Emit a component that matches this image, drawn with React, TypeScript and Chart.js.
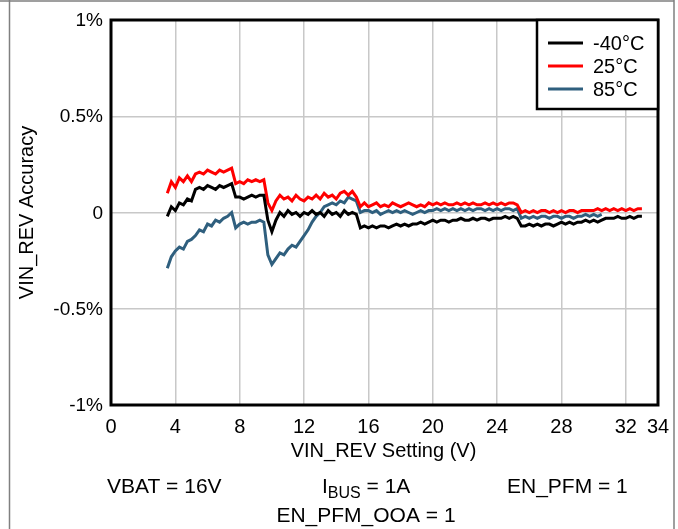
import React, { useEffect, useRef } from "react";
import { Chart, registerables } from "chart.js";

Chart.register(...registerables);

// VIN_REV sweep settings: start and step (V)
const vinStart = 3.5;
const vinStep = 0.25;

// Accuracy (%), one value per 0.25 V from 3.5 V
const minus40C = [
  -0.02, 0.03,
  0.01, 0.05, 0.04, 0.07,
  0.06, 0.12, 0.13, 0.12,
  0.14, 0.13, 0.12, 0.14,
  0.13, 0.14, 0.15, 0.08,
  0.08, 0.07, 0.08, 0.09,
  0.08, 0.09, 0.09, -0.04,
  -0.1, -0.04, 0.0, -0.02,
  0.01, -0.01, 0.0, -0.02,
  0.0, -0.01, 0.01, -0.01,
  0.0, -0.02, 0.01, -0.01,
  0.0, -0.02, 0.01, -0.01,
  0.0, -0.01, -0.08, -0.07,
  -0.08, -0.07, -0.08, -0.07,
  -0.07, -0.08, -0.07, -0.06,
  -0.07, -0.06, -0.07, -0.06,
  -0.06, -0.05, -0.06, -0.05,
  -0.04, -0.05, -0.04, -0.04,
  -0.05, -0.04, -0.04, -0.03,
  -0.04, -0.04, -0.03, -0.04,
  -0.03, -0.03, -0.04, -0.03,
  -0.03, -0.03, -0.02, -0.03,
  -0.02, -0.03, -0.07, -0.07,
  -0.06, -0.07, -0.06, -0.07,
  -0.06, -0.06, -0.07, -0.06,
  -0.05, -0.06, -0.05, -0.06,
  -0.05, -0.05, -0.04, -0.05,
  -0.04, -0.05, -0.04, -0.03,
  -0.03, -0.03, -0.02, -0.03,
  -0.03, -0.02, -0.03, -0.02,
  -0.02,
];

const plus25C = [
  0.1, 0.16,
  0.13, 0.18, 0.16, 0.19,
  0.16, 0.2, 0.21, 0.2,
  0.22, 0.21, 0.2, 0.22,
  0.21, 0.22, 0.23, 0.15,
  0.16, 0.15, 0.17, 0.16,
  0.17, 0.16, 0.17, 0.05,
  0.01, 0.06, 0.09, 0.07,
  0.08, 0.06, 0.09, 0.07,
  0.06, 0.08, 0.07, 0.09,
  0.07, 0.1, 0.08, 0.09,
  0.07, 0.1, 0.11, 0.09,
  0.11, 0.08, 0.03, 0.05,
  0.03, 0.04, 0.05, 0.03,
  0.04, 0.03, 0.05, 0.04,
  0.03, 0.04, 0.05, 0.04,
  0.03, 0.04, 0.03, 0.05,
  0.04, 0.05, 0.04, 0.05,
  0.04, 0.04, 0.05, 0.04,
  0.05, 0.04, 0.05, 0.04,
  0.04, 0.05, 0.04, 0.05,
  0.04, 0.05, 0.04, 0.05,
  0.05, 0.04, 0.0, 0.01,
  0.0, 0.01, 0.0, 0.01,
  0.01, 0.0, 0.01, 0.0,
  0.01, 0.0, 0.01, 0.01,
  0.0, 0.01, 0.01, 0.01,
  0.01, 0.02, 0.01, 0.02,
  0.01, 0.02, 0.01, 0.02,
  0.01, 0.02, 0.01, 0.02,
  0.02,
];

const plus85C = [
  -0.29, -0.23,
  -0.2, -0.18, -0.19, -0.15,
  -0.14, -0.12, -0.09, -0.1,
  -0.06, -0.07, -0.04, -0.05,
  -0.03, -0.02, 0.0, -0.08,
  -0.06, -0.05, -0.06, -0.05,
  -0.05, -0.04, -0.05, -0.22,
  -0.27, -0.24, -0.21, -0.22,
  -0.19, -0.17, -0.18, -0.15,
  -0.12, -0.09, -0.05, -0.02,
  0.0, 0.03, 0.04, 0.05,
  0.04, 0.06, 0.05, 0.08,
  0.07, 0.06, 0.0, 0.01,
  0.01, 0.0, 0.01, -0.01,
  0.0, 0.01, 0.0, 0.01,
  0.0, 0.01, 0.0, -0.01,
  0.0, 0.01, 0.0, 0.01,
  0.01, 0.02, 0.01, 0.02,
  0.01, 0.02, 0.01, 0.02,
  0.01, 0.02, 0.01, 0.02,
  0.02, 0.01, 0.02, 0.01,
  0.02, 0.01, 0.02, 0.02,
  0.01, 0.02, -0.03, -0.02,
  -0.03, -0.02, -0.03, -0.02,
  -0.02, -0.03, -0.02, -0.02,
  -0.03, -0.02, -0.02, -0.03,
  -0.02, -0.02, -0.01, -0.02,
  -0.01, -0.02, -0.01,
];

const seriesNames = ["-40°C", "25°C", "85°C"];
const seriesColors = ["#000000", "#ff0000", "#2f5f7e"];
const xTickValues = [0, 4, 8, 12, 16, 20, 24, 28, 32, 34];
const yTickValues = [-1, -0.5, 0, 0.5, 1];
const yTickLabels = ["-1%", "-0.5%", "0", "0.5%", "1%"];
const xTitle = "VIN_REV Setting (V)";
const yTitle = "VIN_REV Accuracy";
const noteVbat = "VBAT = 16V";
const noteIbusMain = "I";
const noteIbusSub = "BUS";
const noteIbusRest = " = 1A";
const notePfm = "EN_PFM = 1";
const notePfmOoa = "EN_PFM_OOA = 1";

const FONT = '"Liberation Sans", Arial, sans-serif';

const toPoints = (vals: number[]) =>
  vals.map((v, i) => ({ x: vinStart + i * vinStep, y: v }));

const decorPlugin = {
  id: "decor",
  afterDatasetsDraw(chart: any) {
    const { ctx, chartArea } = chart;
    ctx.save();
    ctx.strokeStyle = "#000";
    ctx.lineWidth = 3;
    ctx.strokeRect(
      chartArea.left,
      chartArea.top,
      chartArea.right - chartArea.left,
      chartArea.bottom - chartArea.top
    );
    ctx.restore();
  },
  afterDraw(chart: any) {
    const { ctx, chartArea, scales } = chart;
    const xs = scales.x;
    const ys = scales.y;
    ctx.save();
    // outer gray frame
    ctx.strokeStyle = "#808080";
    ctx.lineWidth = 1.5;
    ctx.beginPath();
    ctx.moveTo(0, 1);
    ctx.lineTo(674, 1);
    ctx.moveTo(9.5, 0);
    ctx.lineTo(9.5, 529);
    ctx.moveTo(674, 0);
    ctx.lineTo(674, 529);
    ctx.stroke();

    ctx.fillStyle = "#000";
    // y tick labels
    ctx.font = `19px ${FONT}`;
    ctx.textAlign = "right";
    ctx.textBaseline = "middle";
    yTickValues.forEach((v, i) => {
      ctx.fillText(yTickLabels[i], chartArea.left - 8, ys.getPixelForValue(v) + 1);
    });
    // x tick labels
    ctx.font = `20px ${FONT}`;
    ctx.textAlign = "center";
    xTickValues.forEach((v) => {
      ctx.fillText(String(v), xs.getPixelForValue(v), chartArea.bottom + 22);
    });
    // x title
    ctx.fillText(xTitle, (chartArea.left + chartArea.right) / 2 - 1, chartArea.bottom + 46);
    // y title
    ctx.save();
    ctx.translate(27, (chartArea.top + chartArea.bottom) / 2);
    ctx.rotate(-Math.PI / 2);
    ctx.fillText(yTitle, 0, 0);
    ctx.restore();
    // notes
    ctx.font = `21px ${FONT}`;
    ctx.textAlign = "left";
    ctx.fillText(noteVbat, 107, 487);
    let x = 322;
    ctx.fillText(noteIbusMain, x, 487);
    x += ctx.measureText(noteIbusMain).width;
    ctx.font = `16px ${FONT}`;
    ctx.fillText(noteIbusSub, x, 494);
    x += ctx.measureText(noteIbusSub).width;
    ctx.font = `21px ${FONT}`;
    ctx.fillText(noteIbusRest, x, 487);
    ctx.fillText(notePfm, 507, 487);
    ctx.textAlign = "center";
    ctx.fillText(notePfmOoa, 366, 516);

    // legend box
    const lx = 537, ly = chartArea.top, lw = chartArea.right - 537, lh = 89;
    ctx.fillStyle = "#fff";
    ctx.fillRect(lx, ly, lw, lh);
    ctx.strokeStyle = "#000";
    ctx.lineWidth = 2.5;
    ctx.strokeRect(lx, ly, lw, lh);
    ctx.textAlign = "left";
    ctx.font = `20px ${FONT}`;
    seriesNames.forEach((name, i) => {
      const cy = 43 + i * 23;
      ctx.strokeStyle = seriesColors[i];
      ctx.lineWidth = 3;
      ctx.beginPath();
      ctx.moveTo(548, cy);
      ctx.lineTo(583, cy);
      ctx.stroke();
      ctx.fillStyle = "#000";
      ctx.fillText(name, 593, cy + 1);
    });
    ctx.restore();
  },
};

export default function App() {
  const ref = useRef<HTMLCanvasElement | null>(null);
  useEffect(() => {
    if (!ref.current) return;
    const series = [minus40C, plus25C, plus85C];
    const chart = new Chart(ref.current, {
      type: "line",
      data: {
        datasets: series.map((vals, i) => ({
          label: seriesNames[i],
          data: toPoints(vals),
          borderColor: seriesColors[i],
          backgroundColor: seriesColors[i],
          borderWidth: 3,
          pointRadius: 0,
          tension: 0,
          fill: false,
        })),
      },
      options: {
        animation: false,
        responsive: false,
        devicePixelRatio: 1,
        layout: { padding: { left: 111, top: 20, right: 20, bottom: 124 } },
        plugins: { legend: { display: false }, tooltip: { enabled: false } },
        scales: {
          x: {
            type: "linear",
            min: 0,
            max: 34,
            afterBuildTicks: (s: any) => {
              s.ticks = xTickValues.map((v) => ({ value: v }));
            },
            ticks: { display: false },
            grid: { color: "#c8c8c8", lineWidth: 1.5, drawTicks: false },
            border: { display: false },
          },
          y: {
            type: "linear",
            min: -1,
            max: 1,
            afterBuildTicks: (s: any) => {
              s.ticks = yTickValues.map((v) => ({ value: v }));
            },
            ticks: { display: false },
            grid: { color: "#c8c8c8", lineWidth: 1.5, drawTicks: false },
            border: { display: false },
          },
        },
      },
      plugins: [decorPlugin],
    } as any);
    return () => chart.destroy();
  }, []);
  return (
    <div style={{ position: "fixed", left: 0, top: 0, width: 678, height: 529, background: "#fff" }}>
      <canvas ref={ref} width={678} height={529} style={{ display: "block" }} />
    </div>
  );
}
